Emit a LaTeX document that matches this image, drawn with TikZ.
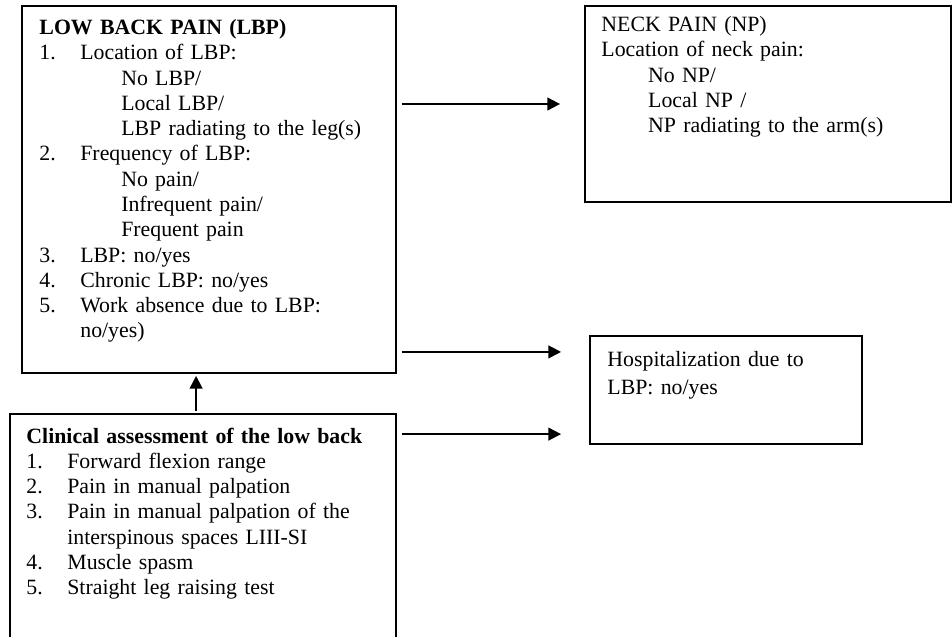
\documentclass[tikz,border=0pt]{standalone}
\usepackage{fontspec}
\setmainfont{Liberation Serif}
\usepackage{tikz}
\usetikzlibrary{calc}
\usetikzlibrary{arrows,shapes,positioning}
\usetikzlibrary{arrows.meta}

\newcommand{\nitem}[1]{\makebox[22.5pt][l]{#1}}
\newcommand{\sublevel}{\hspace*{45pt}}

\begin{document}
\begin{tikzpicture}[x=0.55pt, y=-0.55pt,
			box/.style={draw, rectangle, fill=none, line width=1pt, inner sep=0pt},
			textbox/.style={inner sep=0pt, anchor=base west, align=left, text width=200pt, font=\fontsize{12}{13.9}\selectfont},
			arrowStrong/.style={line width=1.1pt, ->, >={Triangle[length=7pt,width=7pt]}},
			]
			\useasboundingbox (0,0) rectangle (952,636);
			
			% boxes
			\draw node[box, minimum width=205.7pt, minimum height=201.85pt] (lbpBox) at (209,189.5) {};
			\draw node[box, minimum width=201.3pt, minimum height=107.8pt] (neckBox) at (768,104) {};
			\draw node[box, minimum width=149.6pt, minimum height=59.4pt] (hospBox) at (726,390) {};
			\draw node[box, minimum width=212.3pt, minimum height=125.4pt] (clinBox) at (203,528) {};
			
			% texts
			\draw node[textbox] (lbpText) at ($(lbpBox.north west)+(18,29.5)$) {%
				\textbf{LOW BACK PAIN (LBP)}\\
				\nitem{1.}Location of LBP:\\
				\sublevel No LBP/\\
				\sublevel Local LBP/\\
				\sublevel LBP radiating to the leg(s)\\
				\nitem{2.}Frequency of LBP:\\
				\sublevel No pain/\\
				\sublevel Infrequent pain/\\
				\sublevel Frequent pain\\
				\nitem{3.}LBP: no/yes\\
				\nitem{4.}Chronic LBP: no/yes\\
				\nitem{5.}Work absence due to LBP:\\
				\hspace*{22.5pt}no/yes)};
			
			\draw node[textbox] (neckText) at ($(neckBox.north west)+(17,26.5)$) {%
				NECK PAIN (NP)\\
				Location of neck pain:\\
				\hspace*{25.7pt}No NP/\\
				\hspace*{25.7pt}Local NP /\\
				\hspace*{25.7pt}NP radiating to the arm(s)};
			
			\draw node[textbox, text width=140pt, font=\fontsize{12}{15.4}\selectfont] (hospText) at ($(hospBox.north west)+(18,31)$) {%
				Hospitalization due to\\
				LBP: no/yes};
			
			\draw node[textbox] (clinText) at ($(clinBox.north west)+(17,30)$) {%
				\textbf{Clinical assessment of the low back}\\
				\nitem{1.}Forward flexion range\\
				\nitem{2.}Pain in manual palpation\\
				\nitem{3.}Pain in manual palpation of the\\
				\hspace*{22.5pt}interspinous spaces LIII-SI\\
				\nitem{4.}Muscle spasm\\
				\nitem{5.}Straight leg raising test};
			
			% Arrow
			\coordinate (lbpOut1) at (lbpBox.east |- neckBox.west);
			\coordinate (lbpOut2) at ($(lbpBox.south east)+(0,-22)$);
			\coordinate (clinOut) at ($(clinBox.north east)+(0,21)$);
			\coordinate (clinUp) at ($(clinBox.north west)+(187,0)$);
			
			\draw [arrowStrong, shorten <=2.75pt, shorten >=13.2pt] (lbpOut1) -- (neckBox.west);
			\draw [arrowStrong, shorten <=2.75pt, shorten >=15.4pt] (lbpOut2) -- (lbpOut2 -| hospBox.west);
			\draw [arrowStrong, shorten <=2.75pt, shorten >=15.4pt] (clinOut) -- (clinOut -| hospBox.west);
			\draw [arrowStrong, shorten <=1.1pt, shorten >=1.1pt] (clinUp) -- (clinUp |- lbpBox.south);
			
		\end{tikzpicture}
\end{document}
